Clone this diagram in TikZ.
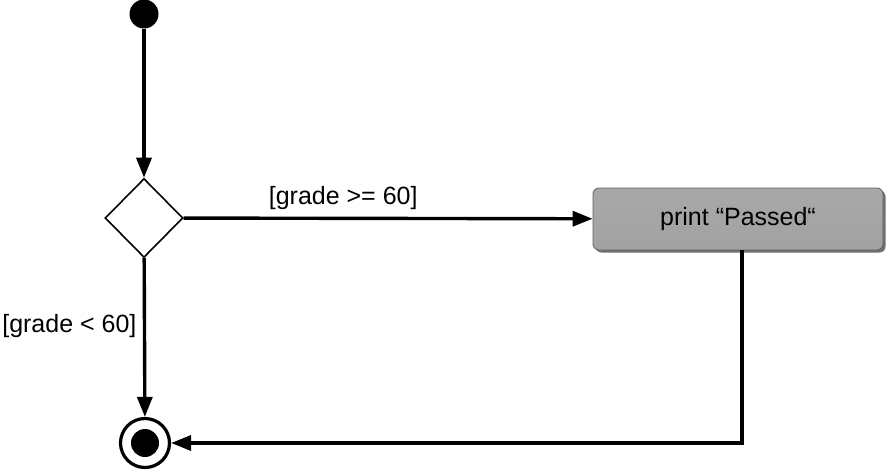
\documentclass[tikz,border=0pt]{standalone}
\usepackage{fontspec}
\setmainfont{Liberation Sans}
\usepackage{tikz}
\usetikzlibrary{arrows.meta,shapes.geometric,shadows}
\definecolor{ink}   {HTML}{000000}
\definecolor{boxbg} {HTML}{A2A2A2}
\definecolor{boxtop}{HTML}{A8A8A8}
\definecolor{boxrim}{HTML}{5E5E5E}
\tikzset{
  initst/.style  = {circle, fill=ink, minimum size=29pt, inner sep=0pt},
  decide/.style  = {diamond, draw=ink, line width=1.6pt, fill=white,
                    minimum width=78pt, minimum height=79pt, inner sep=0pt},
  actbox/.style  = {rounded corners=6pt, top color=boxtop, bottom color=boxbg,
                    draw=boxrim, line width=0.8pt,
                    minimum width=290pt, minimum height=62pt,
                    font=\fontsize{25}{30}\selectfont, text=ink,
                    drop shadow={shadow xshift=2.5pt, shadow yshift=-2.5pt,
                                 fill=black!80, opacity=.7}},
  finalst/.style = {circle, draw=ink, line width=3.2pt, minimum size=49pt, inner sep=0pt},
  finaldot/.style= {circle, fill=ink, minimum size=28pt, inner sep=0pt},
  flow/.style    = {-{Triangle[length=20pt,width=15pt]}, draw=ink, line width=3.4pt},
  lbl/.style     = {font=\fontsize{25}{30}\selectfont, text=ink},
}
\begin{document}
\begin{tikzpicture}[x=1pt,y=-1pt]
  \useasboundingbox (0,0) rectangle (886,472);
  % states
  \node[initst] (start) at (144,14) {};
  \node[decide] (dec) at (144,218) {};
  \node[actbox] (pass) at (738,219) {print “Passed“};
  \node[finalst] (end) at (145,443) {};
  \node[finaldot] (enddot) at (end) {};

  % transitions
  \draw[flow] (start) -- (dec);
  \draw[flow] (dec) -- node[lbl, pos=0.39, above=4pt] {[grade >= 60]} (pass);
  \draw[flow] (dec) -- node[lbl, pos=0.43, left=3pt] {[grade < 60]} (end);
  \draw[flow] ([xshift=4pt]pass.south) |- (end);
\end{tikzpicture}
\end{document}
